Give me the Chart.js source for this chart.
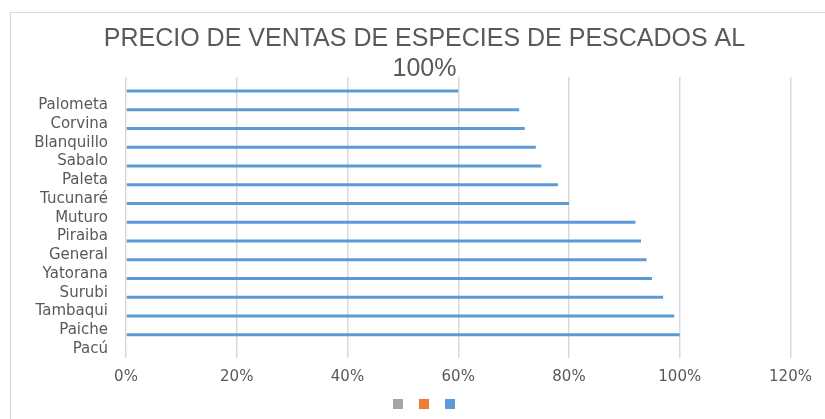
<!DOCTYPE html>
<html lang="es">
<head>
    <meta charset="UTF-8">
    <title>Precio de ventas de especies de pescados</title>
    <style>
        html, body { margin: 0; padding: 0; background: #fff; overflow: hidden; }
        .marco { position: absolute; left: 10px; top: 12px; width: 1000px; height: 1000px; border: 1px solid #d9d9d9; }
        .lienzo { position: absolute; left: 0; top: 0; width: 825px; height: 419px; }
    </style>
</head>
<body>
<div class="marco"></div>
<div class="lienzo"><canvas id="grafico" width="825" height="419"></canvas></div>
<script src="https://cdn.jsdelivr.net/npm/chart.js"></script>
<script>
// especies (de arriba hacia abajo) y precio en % sobre el maximo
const especies = ['', 'Palometa', 'Corvina', 'Blanquillo', 'Sabalo', 'Paleta', 'Tucunaré', 'Muturo',
                  'Piraiba', 'General', 'Yatorana', 'Surubi', 'Tambaqui', 'Paiche', 'Pacú'];
const precioPct = [60, 71, 72, 74, 75, 78, 80, 92, 93, 94, 95, 97, 99, 100, null];
// las otras dos series de la hoja estan vacias
const serieGris = [];
const serieNaranja = [];
const ticksX = [0, 20, 40, 60, 80, 100, 120];

const gris = '#595959';

new Chart(document.getElementById('grafico'), {
    type: 'bar',
    data: {
        labels: especies,
        datasets: [
            { label: '', data: serieGris, backgroundColor: '#a5a5a5', borderWidth: 0 },
            { label: '', data: serieNaranja, backgroundColor: '#ed7d31', borderWidth: 0 },
            { label: '', data: precioPct, backgroundColor: '#5b9bd5', borderWidth: 0 }
        ]
    },
    options: {
        indexAxis: 'y',
        responsive: false,
        animation: false,
        categoryPercentage: 0.75,
        barPercentage: 0.64,
        layout: { padding: { left: 24, right: 0, top: 0, bottom: 0 } },
        plugins: {
            title: {
                display: true,
                text: ['PRECIO DE VENTAS DE ESPECIES DE PESCADOS AL', '100%'],
                color: gris,
                font: { family: 'Liberation Sans', size: 25, weight: 'normal', lineHeight: 1.2 },
                padding: { top: 24.5, bottom: -7.5 }
            },
            legend: {
                position: 'bottom',
                labels: { boxWidth: 10, boxHeight: 10, padding: 15, font: { size: 2 } }
            },
            tooltip: { enabled: false }
        },
        scales: {
            x: {
                min: 0,
                max: 120,
                afterBuildTicks: s => { s.ticks = ticksX.map(v => ({ value: v })); },
                afterFit: s => { s.height = 25.7; },
                ticks: {
                    color: gris,
                    padding: 9.7,
                    font: { family: 'DejaVu Sans', size: 15 },
                    callback: v => v + '%'
                },
                grid: { color: '#d9d9d9', lineWidth: 1.5, drawTicks: false },
                border: { display: false }
            },
            y: {
                afterFit: s => { s.width = 102; },
                ticks: {
                    color: gris,
                    padding: 18,
                    autoSkip: false,
                    font: { family: 'DejaVu Sans', size: 15 }
                },
                grid: { display: false, drawTicks: false },
                border: { display: false }
            },
            // eje vacio a la derecha, solo reserva el margen
            derecha: {
                type: 'linear',
                position: 'right',
                afterFit: s => { s.width = 34.5; },
                ticks: { display: false },
                grid: { display: false },
                border: { display: false }
            }
        }
    }
});
</script>
</body>
</html>
